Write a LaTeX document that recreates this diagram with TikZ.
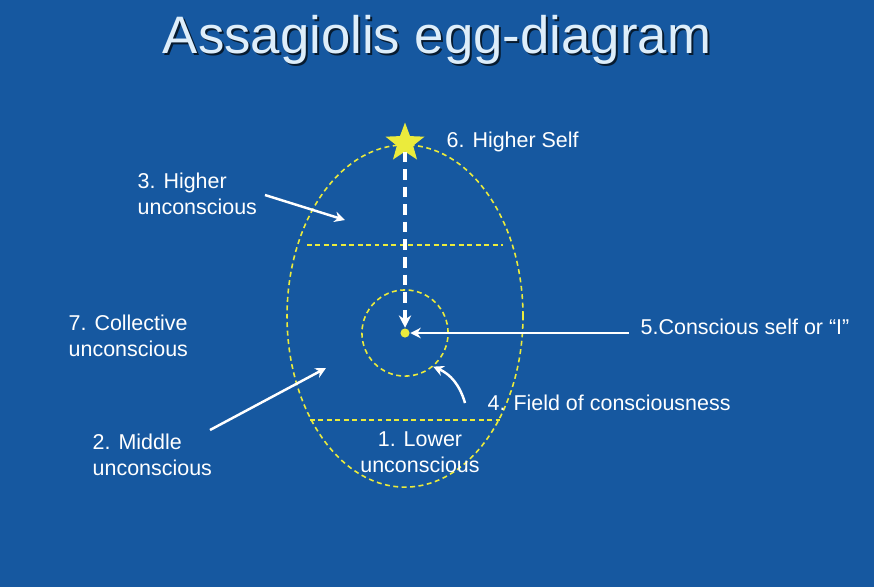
\documentclass[tikz,border=0pt]{standalone}
\usepackage{fontspec}
\setmainfont{Liberation Sans}
\usetikzlibrary{shapes.geometric,arrows.meta}
\definecolor{bg}{RGB}{22,88,160}
\definecolor{ey}{RGB}{235,235,60}
\definecolor{tt}{RGB}{222,238,250}
\begin{document}
\begin{tikzpicture}[x=0.01cm,y=-0.01cm,
  lbl/.style={text=white,font=\fontsize{6.1}{7.4}\selectfont,align=left,inner sep=0pt},
  eggline/.style={ey,line width=0.45pt,dash pattern=on 1.4pt off 1pt},
  arr/.style={white,line width=0.7pt,-{Stealth[length=3pt,width=3pt]}}]
\fill[bg] (0,0) rectangle (874,587);
\useasboundingbox (0,0) rectangle (874,587);
\node[font=\fontsize{15}{17}\selectfont,text=black!70!bg] at (439,42) {Assagiolis egg-diagram};
\node[font=\fontsize{15}{17}\selectfont,text=tt] (title) at (437,40) {Assagiolis egg-diagram};
\node[ellipse,draw,eggline,minimum width=67.1pt,minimum height=97.3pt,inner sep=0] (egg) at (405,316) {};
\draw[eggline] (307,245) -- (503,245);
\draw[eggline] (310,420) -- (500,420);
\node[circle,draw,eggline,minimum size=24.5pt,inner sep=0] (field) at (405,333) {};
\node[circle,fill=ey,minimum size=2.6pt,inner sep=0] (self) at (405,333) {};
\node[star,star points=5,star point ratio=2.4,fill=ey,draw=ey,minimum size=10.5pt,inner sep=0] (star) at (405,143) {};
\draw[white,line width=1.1pt,dash pattern=on 3pt off 2pt,-{Stealth[length=3.5pt,width=3.5pt]}] (star.south) -- (self.north);
\node[lbl,anchor=west] (l6) at (446,142) {6. Higher Self};
\node[lbl,anchor=north west] (l3) at (137,172) {3. Higher\\unconscious};
\node[lbl,anchor=north west] (l7) at (68,314) {7. Collective\\unconscious};
\node[lbl,anchor=north west] (l2) at (92,433) {2. Middle\\unconscious};
\node[lbl,align=center] (l1) at (420,452) {1. Lower\\unconscious};
\node[lbl,anchor=west] (l4) at (487,403) {4. Field of consciousness};
\node[lbl,anchor=west] (l5) at (640,327) {5.Conscious self or “I”};
\coordinate (a3) at (345,220);
\coordinate (a2) at (326,368);
\draw[arr] (265,195) -- (a3);
\draw[arr] (210,430) -- (a2);
\draw[arr] (629,333) -- (self.east);
\draw[arr] (465,403) to[bend right=25] (field.-50);
\end{tikzpicture}
\end{document}
